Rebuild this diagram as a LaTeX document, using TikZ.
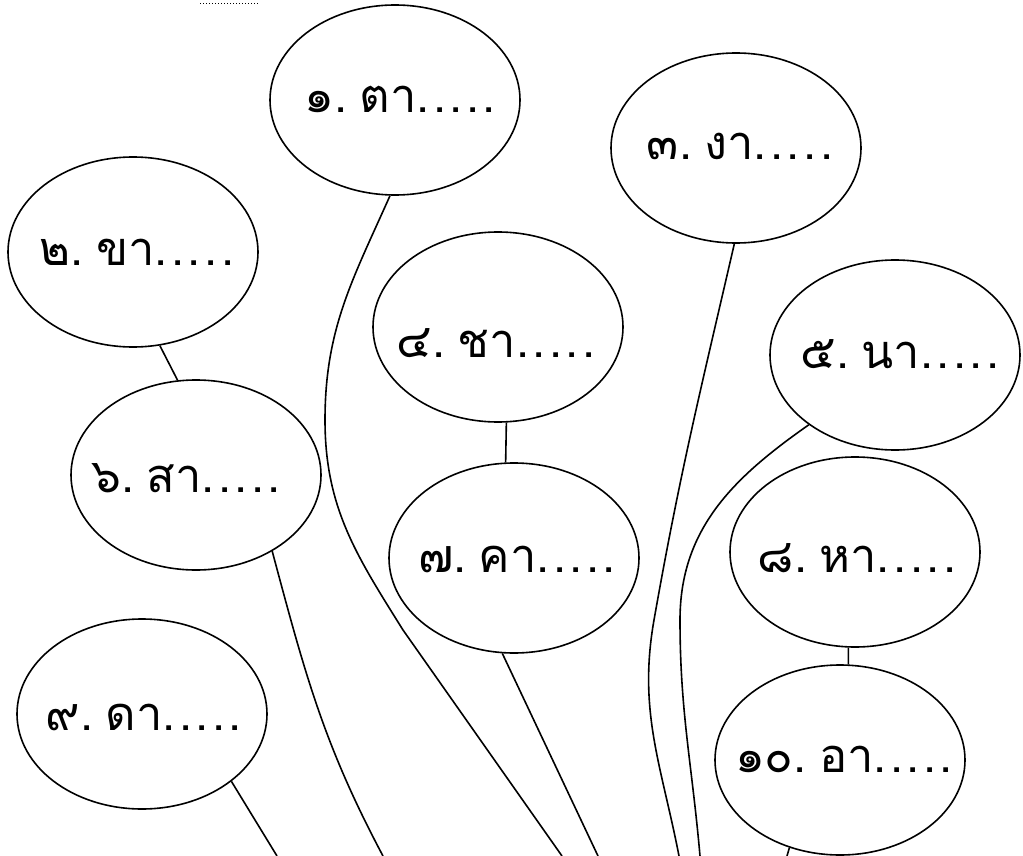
\documentclass[tikz,border=0pt]{standalone}
\usepackage{fontspec}
\newfontfamily\thaifont[Script=Thai, WordSpace=0.45]{Loma}
\usetikzlibrary{shapes.geometric}
\newcommand\fivedots{.\kern3.5pt.\kern3.5pt.\kern3.5pt.\kern3.5pt.}
\begin{document}
\begin{tikzpicture}[x=1pt,y=-1pt,
  bubble/.style={ellipse, draw, line width=1.6pt, minimum width=250pt, minimum height=190pt, inner sep=0pt},
  conn/.style={line width=1.6pt},
  lbl/.style={anchor=base, inner sep=0pt, font=\thaifont\fontsize{47}{56}\selectfont}]
\clip (0,0) rectangle (1023,856);
% bubbles
\node[bubble] (e1) at (395,100) {};
\node[bubble] (e2) at (133,252) {};
\node[bubble] (e3) at (736,148) {};
\node[bubble] (e4) at (498,327) {};
\node[bubble] (e5) at (895,355) {};
\node[bubble] (e6) at (196,475) {};
\node[bubble] (e7) at (514,558) {};
\node[bubble] (e8) at (855,552) {};
\node[bubble] (e9) at (142,714) {};
\node[bubble] (e10) at (840,760) {};
% texts
\node[lbl] (t1) at (400,113) {๑. ตา\fivedots};
\node[lbl] (t2) at (137,265) {๒. ขา\fivedots};
\node[lbl] (t3) at (740,160) {๓. งา\fivedots};
\node[lbl] (t4) at (496,357) {๔. ชา\fivedots};
\node[lbl] (t5) at (900,368) {๕. นา\fivedots};
\node[lbl] (t6) at (186,492) {๖. สา\fivedots};
\node[lbl] (t7) at (517,572) {๗. คา\fivedots};
\node[lbl] (t8) at (857,572) {๘. หา\fivedots};
\node[lbl] (t9) at (144,730) {๙. ดา\fivedots};
\node[lbl] (t10) at (844,772) {๑๐. อา\fivedots};
% top fragment
\coordinate (d1) at (200,4);
\coordinate (d2) at (258,4);
\draw[dotted, line width=1pt] (d1) -- (d2);
% free ends and way points
\coordinate (b1) at (562,856);
\coordinate (b3) at (679,856);
\coordinate (b5) at (700,856);
\coordinate (b6) at (383,856);
\coordinate (b7) at (598,856);
\coordinate (b9) at (277,856);
\coordinate (b10) at (787,856);
\coordinate (w1a) at (325,420);
\coordinate (w1b) at (403,630);
\coordinate (w3) at (654,620);
\coordinate (w5) at (680,620);
% connectors between bubbles
\draw[conn] (e2.-74) -- (e6.101);
\draw[conn] (e4.-85) -- (e7.95);
\draw[conn] (e8.-94) -- (e10.85);
% connectors to bottom
\draw[conn] (e1.-93) to[out=-114,in=90] (w1a) to[out=-90,in=122] (w1b) -- (b1);
\draw[conn] (e3.-91) to[out=-103,in=80] (w3) to[out=-100,in=101] (b3);
\draw[conn] (e5.-141) to[out=-145,in=90] (w5) to[out=-90,in=95] (b5);
\draw[conn] (e6.-45) to[out=-75,in=118] (b6);
\draw[conn] (e7.-97) -- (b7);
\draw[conn] (e9.-37) -- (b9);
\draw[conn] (e10.-120) -- (b10);
\end{tikzpicture}
\end{document}
